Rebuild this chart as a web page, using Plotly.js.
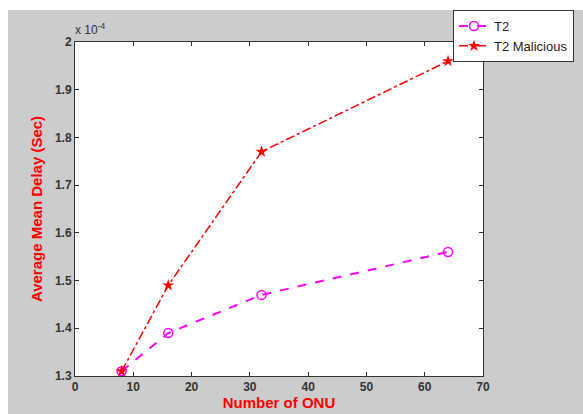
<!DOCTYPE html>
<html><head><meta charset="utf-8">
<script src="https://cdn.plot.ly/plotly-3.0.1.min.js"></script>
<style>html,body{margin:0;padding:0;background:#fff;overflow:hidden}#plot{position:absolute;left:8px;top:10px;width:575px;height:404px}</style>
</head><body><div id="plot"></div>
<script>
const onu = [8, 16, 32, 64];
const t2 = [1.31, 1.39, 1.47, 1.56];
const t2Malicious = [1.31, 1.49, 1.77, 1.96];
const xTicks = [0, 10, 20, 30, 40, 50, 60, 70];
const yTicks = [1.3, 1.4, 1.5, 1.6, 1.7, 1.8, 1.9, 2];

const tickFont = {family: 'Liberation Sans, Arial', size: 12, color: '#333', weight: 'bold'};
const titleFont = {family: 'Liberation Sans, Arial', size: 15, color: '#ff0000', weight: 'bold'};

const traces = [
  {x: onu, y: t2, name: 'T2', mode: 'lines+markers',
   line: {color: '#ff00ff', width: 2, dash: 'dash'},
   marker: {symbol: 'circle-open', size: 9, color: '#ff00ff', line: {width: 1.5, color: '#ff00ff'}}},
  {x: onu, y: t2Malicious, name: 'T2 Malicious', mode: 'lines+markers',
   line: {color: '#ff0000', width: 1.5, dash: 'dashdot'},
   marker: {symbol: 'star', size: 9, color: '#ff0000'}}
];

const axisCommon = {showgrid: false, zeroline: false, showline: true, mirror: 'ticks',
  linecolor: '#333', linewidth: 1, ticks: 'inside', ticklen: 4, tickcolor: '#333',
  tickfont: tickFont, automargin: false};

const layout = {
  width: 575, height: 404,
  paper_bgcolor: '#cccccc', plot_bgcolor: '#ffffff',
  margin: {l: 67, r: 100, t: 32, b: 38, autoexpand: false},
  showlegend: true,
  legend: {x: (445 - 67) / 408, xref: 'paper', y: 1, yref: 'container', xanchor: 'left', yanchor: 'top',
    bgcolor: '#ffffff', bordercolor: '#333', borderwidth: 1,
    font: {family: 'Liberation Sans, Arial', size: 13, color: '#222'},
    tracegroupgap: 0, itemwidth: 30},
  xaxis: Object.assign({}, axisCommon, {range: [0, 70], tickvals: xTicks,
    title: {text: 'Number of ONU', font: titleFont, standoff: 4}}),
  yaxis: Object.assign({}, axisCommon, {range: [1.3, 2], tickvals: yTicks,
    ticktext: yTicks.map(v => String(v)),
    title: {text: 'Average Mean Delay (Sec)', font: titleFont, standoff: 8}}),
  annotations: [{xref: 'paper', yref: 'paper', x: -0.005, y: 1.01, xanchor: 'left', yanchor: 'bottom',
    showarrow: false, text: 'x 10<sup>-4</sup>', font: {family: 'Liberation Sans, Arial', size: 12, color: '#333'}}]
};

Plotly.newPlot('plot', traces, layout, {displayModeBar: false, staticPlot: true});
</script></body></html>
